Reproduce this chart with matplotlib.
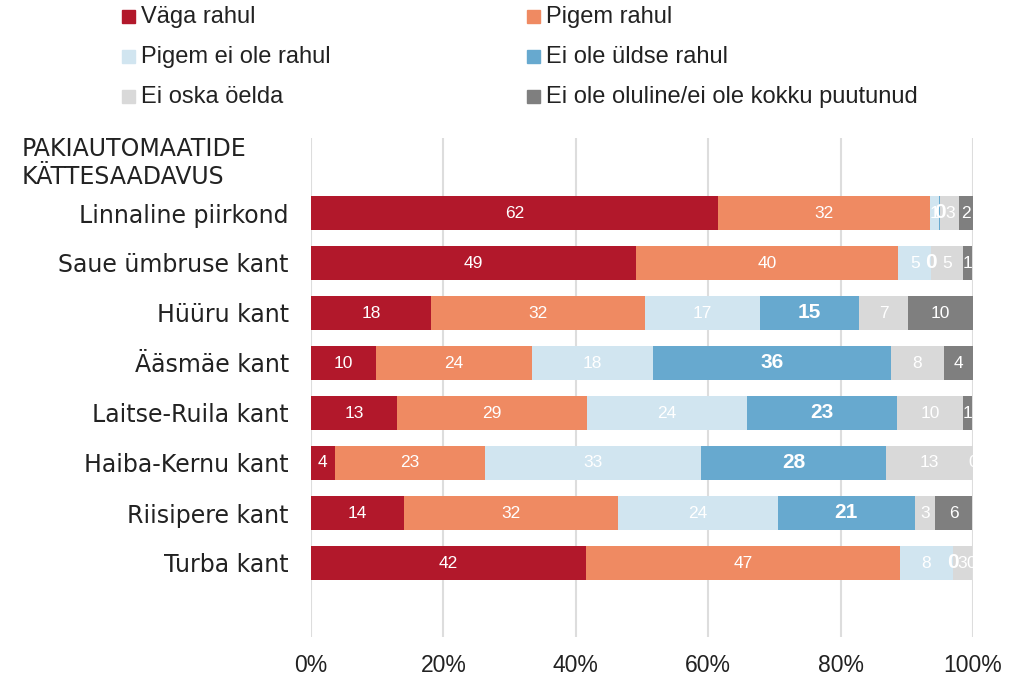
import matplotlib
matplotlib.use("Agg")
import matplotlib.pyplot as plt
from matplotlib.patches import Rectangle

categories = ["Linnaline piirkond", "Saue ümbruse kant", "Hüüru kant", "Ääsmäe kant",
              "Laitse-Ruila kant", "Haiba-Kernu kant", "Riisipere kant", "Turba kant"]
header = "PAKIAUTOMAATIDE\nKÄTTESAADAVUS"
series_names = ["Väga rahul", "Pigem rahul", "Pigem ei ole rahul", "Ei ole üldse rahul",
                "Ei oska öelda", "Ei ole oluline/ei ole kokku puutunud"]
vaga_rahul = [61.5, 49.1, 18.1, 9.8, 13.0, 3.6, 14.0, 41.6]
pigem_rahul = [32.0, 39.6, 32.3, 23.6, 28.7, 22.7, 32.4, 47.3]
pigem_ei_ole = [1.4, 5.0, 17.4, 18.3, 24.2, 32.6, 24.1, 8.1]
ei_ole_uldse = [0.15, 0.0, 15.0, 35.9, 22.6, 28.0, 20.7, 0.0]
ei_oska = [2.9, 4.8, 7.4, 8.0, 10.0, 13.1, 3.0, 2.8]
ei_ole_oluline = [2.1, 1.4, 9.8, 4.4, 1.4, 0.0, 5.7, 0.0]
tick_values = [0, 20, 40, 60, 80, 100]
tick_labels = ["0%", "20%", "40%", "60%", "80%", "100%"]

series = [vaga_rahul, pigem_rahul, pigem_ei_ole, ei_ole_uldse, ei_oska, ei_ole_oluline]
colors = ["#B2182B", "#EF8A62", "#D1E5F0", "#67A9CF", "#D9D9D9", "#7F7F7F"]

plt.rcParams['font.family'] = ['Liberation Sans', 'DejaVu Sans']

fig = plt.figure(figsize=(10.25, 6.77), dpi=100)
ax = fig.add_axes([311/1025, 1-637/677, (973-311)/1025, (637-138)/677])

ypos = list(range(1, len(categories) + 1))
left = [0.0] * len(categories)
for si, (vals, col) in enumerate(zip(series, colors)):
    ax.barh(ypos, vals, left=left, height=0.67, color=col, zorder=2)
    for y, l, v in zip(ypos, left, vals):
        cx = l + v / 2
        if si == 3:
            ax.text(cx, y, f"{round(v):d}", ha="center", va="center", color="white",
                    fontsize=15, fontweight="bold", zorder=3, clip_on=True)
        else:
            ax.text(cx, y, f"{round(v):d}", ha="center", va="center", color="white",
                    fontsize=12.5, zorder=3, clip_on=True)
    left = [a + b for a, b in zip(left, vals)]

ax.set_xlim(0, 100)
ax.set_ylim(9.48, -0.5)
ax.set_xticks(tick_values)
ax.set_xticklabels(tick_labels, fontsize=16.5, color="#222222")
ax.tick_params(axis="x", length=0, pad=12)
ax.set_yticks(ypos)
ax.set_yticklabels(categories, fontsize=17, color="#222222", family="DejaVu Sans")
ax.tick_params(axis="y", length=0, pad=16)
for s in ax.spines.values():
    s.set_visible(False)
ax.grid(axis="x", color="#DDDDDD", linewidth=1.5, zorder=0)
ax.set_axisbelow(True)

fig.text(22/1025, 1-163/677, header, ha="left", va="center", fontsize=17,
         color="#222222", family="DejaVu Sans", linespacing=1.2)

# legend
leg_pos = [(122, 17), (527, 17), (122, 57), (527, 57), (122, 97), (527, 97)]
for (px, py), name, col in zip(leg_pos, series_names, colors):
    fig.add_artist(Rectangle((px/1025, 1-(py+6)/677), 13/1025, 13/677,
                             transform=fig.transFigure, color=col))
    fig.text((px+19)/1025, 1-py/677, name, ha="left", va="center", fontsize=17,
             color="#222222")

fig.savefig("out.png", dpi=100)
